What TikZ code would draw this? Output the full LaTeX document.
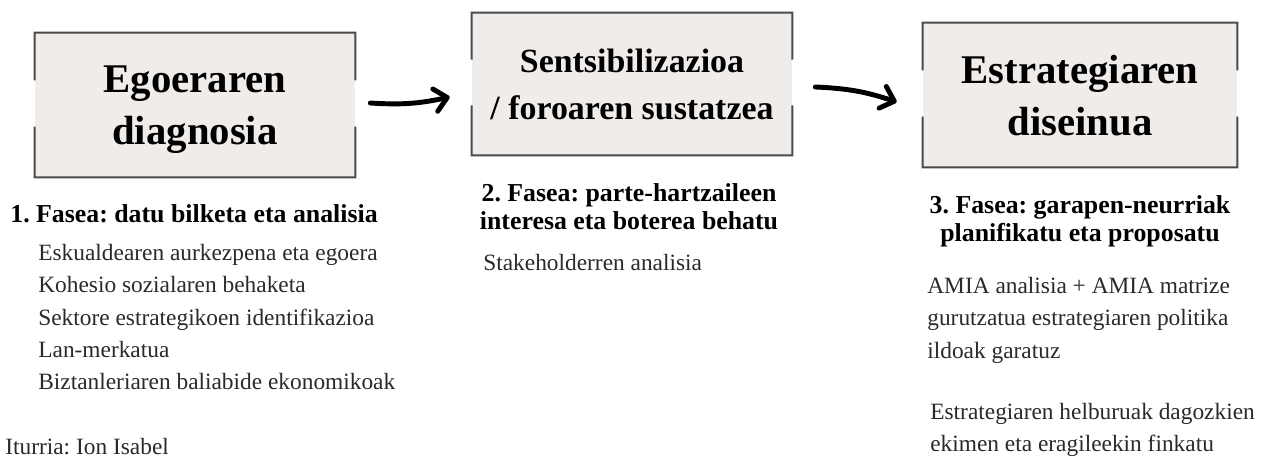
\documentclass[tikz,border=0pt]{standalone}
\usepackage{fontspec}
\setmainfont{Liberation Serif}
\frenchspacing
\usetikzlibrary{calc}
\usetikzlibrary{arrows.meta}
\definecolor{paperbg}{HTML}{F0ECEA}
\definecolor{paperedge}{HTML}{4A4A4A}
\definecolor{bodytext}{HTML}{2A2A2A}
\newcommand{\paperframe}[1]{%
  \draw[frame] ($(#1.north west)!0.33!(#1.south west)$) -- (#1.north west)
    -- (#1.north east) -- ($(#1.north east)!0.33!(#1.south east)$);
  \draw[frame] ($(#1.north west)!0.65!(#1.south west)$) -- (#1.south west)
    -- (#1.south east) -- ($(#1.north east)!0.65!(#1.south east)$);
}

\begin{document}
\begin{tikzpicture}[x=0.02cm, y=0.02cm,
paper/.style = {fill=paperbg, inner sep=0pt, align=center, text depth=0pt,
  font=\bfseries\fontsize{23.2}{29.5}\selectfont},
frame/.style = {draw=paperedge, line width=1.1pt},
phase/.style = {inner sep=0pt, align=center,
  font=\bfseries\fontsize{14.7}{15.9}\selectfont},
body/.style = {inner sep=0pt, align=left, text=bodytext,
  font=\fontsize{13.3}{18.4}\selectfont},
flow/.style = {line width=2.8pt, line cap=round,
  -{Straight Barb[round, length=7pt, width=13pt]}}
]
\useasboundingbox[fill=white] (0,0) rectangle (1268,458);

\node[paper, minimum width=6.4cm, minimum height=2.88cm] (egoera) at (195,353) {Egoeraren\\diagnosia};
\node[paper, minimum width=6.4cm, minimum height=2.84cm,
  font=\bfseries\fontsize{19.3}{26.6}\selectfont] (sentsib) at (632,374) {Sentsibilizazioa\\/ foroaren sustatzea};
\node[paper, minimum width=6.28cm, minimum height=2.88cm] (diseinu) at (1080,363) {Estrategiaren\\diseinua};
\paperframe{egoera}
\paperframe{sentsib}
\paperframe{diseinu}

\draw[flow] ($(egoera.east)+(15,2)$) to[bend right=8] ($(sentsib.west)+(-22,-13)$);
\draw[flow] ($(sentsib.east)+(23,-3)$) to[bend left=8] ($(diseinu.west)+(-26,-7)$);

\node[phase, anchor=base west] (fase1) at (10,236) {1. Fasea: datu bilketa eta analisia};
\node[phase, anchor=north] (fase2) at (629,275) {2. Fasea: parte-hartzaileen\\interesa eta boterea behatu};
\node[phase, anchor=north] (fase3) at (1080,263) {3. Fasea: garapen-neurriak\\planifikatu eta proposatu};

\node[body, anchor=north west] (zer1) at (38,214) {Eskualdearen aurkezpena eta egoera\\Kohesio sozialaren behaketa\\Sektore estrategikoen identifikazioa\\Lan-merkatua\\Biztanleriaren baliabide ekonomikoak};
\node[body, anchor=north west] (zer2) at (483,204) {Stakeholderren analisia};
\node[body, anchor=north west] (zer3a) at (927,181) {AMIA analisia + AMIA matrize\\gurutzatua estrategiaren politika\\ildoak garatuz};
\node[body, anchor=north west] (zer3b) at (930,55) {Estrategiaren helburuak dagozkien\\ekimen eta eragileekin finkatu};
\node[body, anchor=base west] (iturria) at (5,4) {Iturria: Ion Isabel};
\end{tikzpicture}
\end{document}
